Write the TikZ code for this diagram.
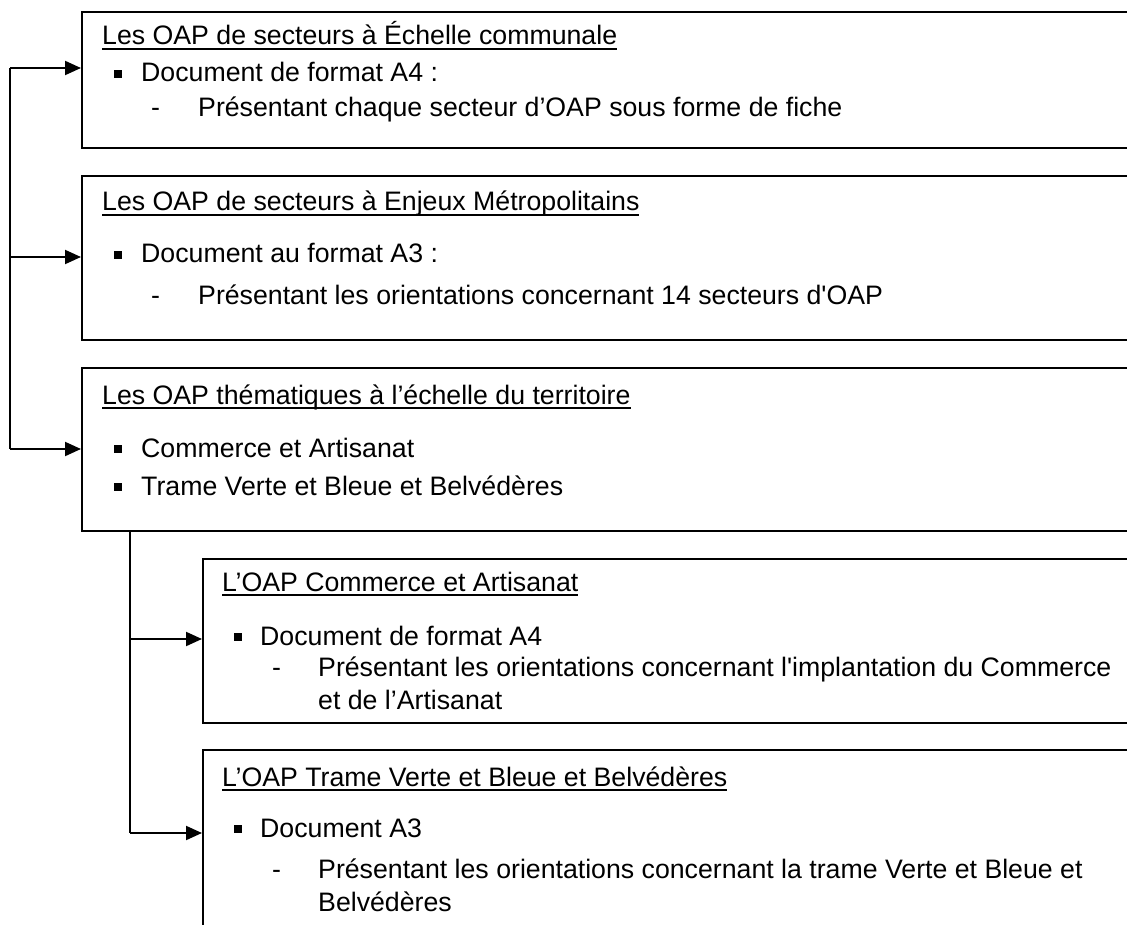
\documentclass[tikz,border=0pt]{standalone}
\usepackage{fontspec}
\newfontfamily\arial{Liberation Sans}
\usetikzlibrary{arrows.meta,calc}
\newcommand\uln[1]{\setbox0\hbox{#1}\rlap{\rule[-4.8pt]{\wd0}{1.7pt}}\box0}
\tikzset{
  boxnode/.style={draw, line width=2pt, rectangle, anchor=north west, inner sep=0pt, minimum width=1100pt},
  txt/.style={anchor=base west, inner sep=0pt, font=\arial\fontsize{26.7}{31}\selectfont},
  sq/.style={fill=black, inner sep=0pt, minimum size=7.5pt, anchor=south west},
  arr/.style={line width=2pt, -{Triangle[length=16pt,width=14pt]}},
  ln/.style={line width=2pt}
}
\begin{document}
\begin{tikzpicture}[x=1pt,y=-1pt]
\useasboundingbox (0,0) rectangle (1127,925);
\clip (0,0) rectangle (1127,925);
% boxes
\node[boxnode, minimum height=136pt] (b1) at (81,11) {};
\node[boxnode, minimum height=164pt] (b2) at (81,175) {};
\node[boxnode, minimum height=163pt] (b3) at (81,367) {};
\node[boxnode, minimum height=164pt] (b4) at (202,558) {};
\node[boxnode, minimum height=250pt] (b5) at (202,749) {};
% box 1 text
\node[txt] (t1) at (102,45) {\uln{Les OAP de secteurs à Échelle communale}};
\node[sq] (s1) at (114,78) {};
\node[txt] (t1a) at (141,82) {Document de format A4 :};
\node[txt] (d1) at (151,117) {-};
\node[txt] (t1b) at (198,117) {Présentant chaque secteur d’OAP sous forme de fiche};
% box 2 text
\node[txt] (t2) at (102,211) {\uln{Les OAP de secteurs à Enjeux Métropolitains}};
\node[sq] (s2) at (114,259) {};
\node[txt] (t2a) at (141,263) {Document au format A3 :};
\node[txt] (d2) at (151,305) {-};
\node[txt] (t2b) at (198,305) {Présentant les orientations concernant 14 secteurs d'OAP};
% box 3 text
\node[txt] (t3) at (102,404) {\uln{Les OAP thématiques à l’échelle du territoire}};
\node[sq] (s3) at (114,453) {};
\node[txt] (t3a) at (141,457) {Commerce et Artisanat};
\node[sq] (s3b) at (114,491) {};
\node[txt] (t3b) at (141,495) {Trame Verte et Bleue et Belvédères};
% box 4 text
\node[txt] (t4) at (222,591) {\uln{L’OAP Commerce et Artisanat}};
\node[sq] (s4) at (234,641) {};
\node[txt] (t4a) at (260,645) {Document de format A4};
\node[txt] (d4) at (272,676) {-};
\node[txt] (t4b) at (318,676) {Présentant les orientations concernant l'implantation du Commerce};
\node[txt] (t4c) at (318,709) {et de l’Artisanat};
% box 5 text
\node[txt] (t5) at (222,786) {\uln{L’OAP Trame Verte et Bleue et Belvédères}};
\node[sq] (s5) at (234,833) {};
\node[txt] (t5a) at (260,837) {Document A3};
\node[txt] (d5) at (272,878) {-};
\node[txt] (t5b) at (318,878) {Présentant les orientations concernant la trame Verte et Bleue et};
\node[txt] (t5c) at (318,911) {Belvédères};
% connectors
\coordinate (j1) at (10,68);
\coordinate (j2) at (10,257);
\coordinate (j3) at (10,449);
\draw[ln] (j1) -- (j3);
\draw[arr] (j1) -- (j1 -| b1.west);
\draw[arr] (j2) -- (j2 -| b2.west);
\draw[arr] (j3) -- (j3 -| b3.west);
\coordinate (k0) at ($(b3.south west)+(49,0)$);
\coordinate (k1) at (130,639);
\coordinate (k2) at (130,833);
\draw[ln] (k0) -- (k2);
\draw[arr] (k1) -- (k1 -| b4.west);
\draw[arr] (k2) -- (k2 -| b5.west);
\end{tikzpicture}
\end{document}
